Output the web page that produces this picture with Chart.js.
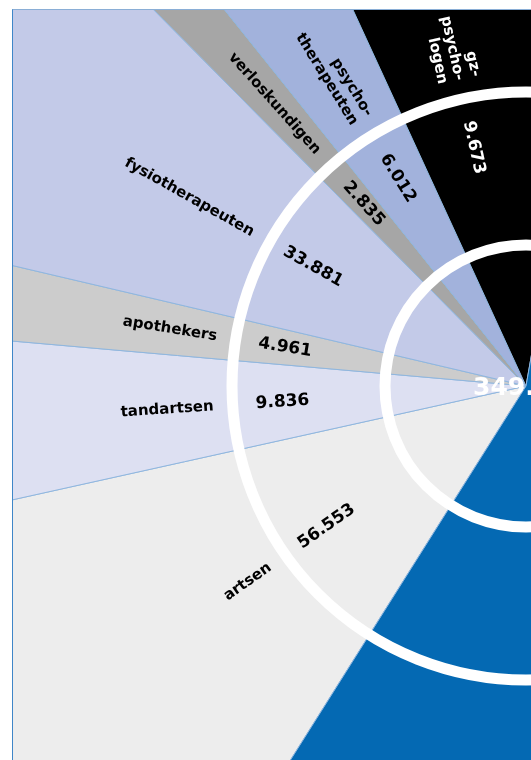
<!DOCTYPE html>
<html>
<head>
<meta charset="utf-8">
<script src="https://cdn.jsdelivr.net/npm/chart.js@4/dist/chart.umd.min.js"></script>
<style>
  html, body { margin: 0; padding: 0; background: #ffffff; width: 531px; height: 760px; overflow: hidden; }
  #frame { position: absolute; left: 12px; top: 9px; width: 519px; height: 751px; overflow: hidden;
           border-left: 1px solid #3f86c8; border-top: 1px solid #8aaed6; }
  #c { position: absolute; left: -187px; top: -324px; }
</style>
</head>
<body>
<div id="frame"><canvas id="c" width="1400" height="1400"></canvas></div>
<script>
// Categories in clockwise order, starting at the lower-left slice
const categories = ['artsen', 'tandartsen', 'apothekers', 'fysiotherapeuten', 'verloskundigen', 'psychotherapeuten', 'gz-psychologen', 'overig'];
// Label text as printed (lines)
const categoryLines = [['artsen'], ['tandartsen'], ['apothekers'], ['fysiotherapeuten'], ['verloskundigen'], ['psycho-', 'therapeuten'], ['gz-', 'psycho-', 'logen'], []];
// Values printed in the slices
const printedValues = ['56.553', '9.836', '4.961', '33.881', '2.835', '6.012', '9.673', ''];
// Slice sizes (degrees of arc)
const sliceSizes = [45.3, 17.5, 8.2, 32.1, 6.0, 14.0, 34.7, 202.2];
const totalLabel = '349.286';
const sliceColors = ['#ededed', '#dde0f2', '#cccccc', '#c3cae8', '#a6a6a6', '#a2b2dc', '#000000', '#0469b3'];
const textColors = ['#000', '#000', '#000', '#000', '#000', '#000', '#fff', '#fff'];

const decorPlugin = {
  id: 'decor',
  afterDatasetsDraw(chart) {
    const ctx = chart.ctx;
    const meta = chart.getDatasetMeta(0);
    const cx = meta.data[0].x, cy = meta.data[0].y;
    // white rings
    ctx.save();
    ctx.strokeStyle = '#ffffff';
    ctx.lineWidth = 11;
    [294, 141].forEach(r => { ctx.beginPath(); ctx.arc(cx, cy, r, 0, Math.PI * 2); ctx.stroke(); });
    ctx.restore();
    // labels, placed at the middle of the part of each slice in the left half
    meta.data.forEach((arc, i) => {
      const a0 = Math.max(arc.startAngle, Math.PI / 2);
      const a1 = Math.min(arc.endAngle, Math.PI * 1.5);
      const mid = (a0 + a1) / 2;
      const rot = mid + Math.PI;
      ctx.save();
      ctx.fillStyle = textColors[i];
      const lines = categoryLines[i];
      if (lines.length) {
        ctx.save();
        ctx.translate(cx + Math.cos(mid) * 313, cy + Math.sin(mid) * 313);
        ctx.rotate(rot);
        ctx.font = 'bold 15px "DejaVu Sans"';
        ctx.textAlign = 'right';
        ctx.textBaseline = 'middle';
        const lh = 17;
        lines.forEach((ln, k) => ctx.fillText(ln, 0, (k - (lines.length - 1) / 2) * lh));
        ctx.restore();
      }
      if (printedValues[i]) {
        ctx.save();
        ctx.translate(cx + Math.cos(mid) * 244, cy + Math.sin(mid) * 244);
        ctx.rotate(rot);
        ctx.font = 'bold 17px "DejaVu Sans"';
        ctx.textAlign = 'center';
        ctx.textBaseline = 'middle';
        ctx.fillText(printedValues[i], 0, 0);
        ctx.restore();
      }
      ctx.restore();
    });
    // total in the centre
    ctx.save();
    ctx.fillStyle = '#ffffff';
    ctx.font = 'bold 25px "DejaVu Sans"';
    ctx.textAlign = 'left';
    ctx.textBaseline = 'alphabetic';
    ctx.fillText(totalLabel, cx - 53, cy + 9);
    ctx.restore();
  }
};

new Chart(document.getElementById('c'), {
  type: 'pie',
  data: {
    labels: categories,
    datasets: [{
      data: sliceSizes,
      backgroundColor: sliceColors,
      borderColor: '#8fb6de',
      borderWidth: 1
    }]
  },
  options: {
    responsive: false,
    devicePixelRatio: 1,
    animation: false,
    events: [],
    rotation: 212.2,
    layout: { padding: 0 },
    plugins: { legend: { display: false }, tooltip: { enabled: false }, title: { display: false } }
  },
  plugins: [decorPlugin]
});
</script>
</body>
</html>
